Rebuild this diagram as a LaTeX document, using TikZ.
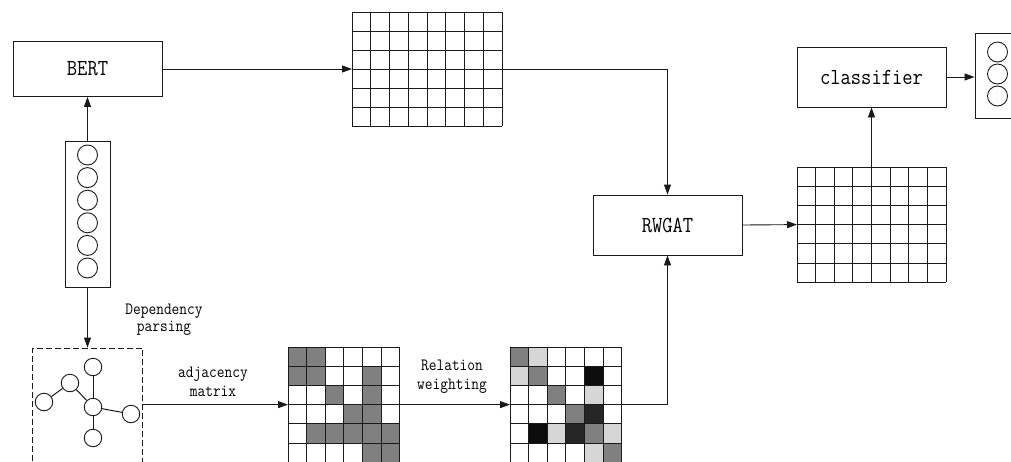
\documentclass[tikz,border=0pt]{standalone}
\usepackage{fontspec}
\usetikzlibrary{arrows.meta}
\definecolor{mgray}{HTML}{808080}
\definecolor{lgray}{HTML}{D6D6D6}
\definecolor{bgray}{HTML}{0D0D0D}
\definecolor{dgray}{HTML}{262626}
\definecolor{ink}{HTML}{1A1A1A}
\tikzset{
  mline/.style={draw=ink, line width=1pt},
  box/.style={draw=ink, line width=0.9pt, rectangle, inner sep=0pt, font=\ttfamily\fontsize{20}{24}\selectfont},
  mat/.style={rectangle, inner sep=0pt, outer sep=0pt},
  dot/.style={circle, draw=ink, line width=0.9pt, inner sep=0pt, minimum size=20pt},
  tdot/.style={circle, draw=ink, line width=0.9pt, inner sep=0pt, minimum size=17.5pt},
  arr/.style={draw=ink, line width=0.9pt, -{Triangle[length=10pt,width=7pt]}},
  lab/.style={align=center, inner sep=0pt, font=\ttfamily\fontsize{15}{19}\selectfont},
}
\newcommand{\tall}[1]{\scalebox{1}[1.15]{#1}}
\begin{document}
\begin{tikzpicture}[x=1pt,y=-1pt]
\useasboundingbox (0,0) rectangle (1011,461);
\clip (0,0) rectangle (1011,461);
\fill[white] (0,0) rectangle (1011,461);

% BERT
\node[box, minimum width=149pt, minimum height=55pt] (bert) at (87.5,69) {\tall{BERT}};

% input vector
\node[box, minimum width=45pt, minimum height=146pt] (inp) at (87.5,214) {};
\foreach \k in {0,...,5}
  \node[dot] (i\k) at (87.5,155+22.6*\k) {};

% dependency tree box
\node[draw=ink, line width=0.9pt, dash pattern=on 6pt off 3pt, rectangle, inner sep=0pt, minimum width=110pt, minimum height=132pt] (dep) at (87.5,414) {};
\node[tdot] (ttop) at (93,367) {};
\node[tdot] (tul) at (70,383) {};
\node[tdot] (tl) at (44,402) {};
\node[tdot] (tc) at (93,407) {};
\node[tdot] (tr) at (131,414) {};
\node[tdot] (tb) at (93,438) {};
\draw[mline] (ttop) -- (tc);
\draw[mline] (tul) -- (tc);
\draw[mline] (tul) -- (tl);
\draw[mline] (tc) -- (tr);
\draw[mline] (tc) -- (tb);

\node[lab, font=\ttfamily\fontsize{15}{17}\selectfont] (depl) at (164,320) {\tall{Dependency}\\\tall{parsing}};

% adjacency matrix
\node[mat, minimum width=111.6pt, minimum height=115.2pt] (adj) at (343.8,404.6) {};
\foreach \c/\r in {1/1,2/1,1/2,2/2,5/2,3/3,5/3,4/4,5/4,2/5,3/5,4/5,5/5,6/5,5/6,6/6}
  \fill[mgray] (288+\c*18.6-18.6,347+\r*19.2-19.2) rectangle ++(18.6,19.2);
\foreach \i in {0,...,6} {
  \draw[mline] (288+\i*18.6,347) -- ++(0,115.2);
  \draw[mline] (288,347+\i*19.2) -- ++(111.6,0);
}
\node[lab] (adjl) at (213,382) {\tall{adjacency}\\\tall{matrix}};

% relation weighting matrix
\node[mat, minimum width=111.6pt, minimum height=115.2pt] (rw) at (565.8,404.6) {};
\foreach \c/\r/\col in {1/1/mgray,2/1/lgray,1/2/lgray,2/2/mgray,5/2/bgray,3/3/mgray,5/3/lgray,4/4/mgray,5/4/dgray,2/5/bgray,3/5/lgray,4/5/dgray,5/5/mgray,6/5/lgray,5/6/lgray,6/6/mgray}
  \fill[\col] (510+\c*18.6-18.6,347+\r*19.2-19.2) rectangle ++(18.6,19.2);
\foreach \i in {0,...,6} {
  \draw[mline] (510+\i*18.6,347) -- ++(0,115.2);
  \draw[mline] (510,347+\i*19.2) -- ++(111.6,0);
}
\node[lab] (rwl) at (452,377) {\tall{Relation}\\\tall{weighting}};

% top matrix
\node[mat, minimum width=150pt, minimum height=114pt] (top) at (427,69) {};
\foreach \i in {0,...,8}
  \draw[mline] (352+\i*18.75,12) -- ++(0,114);
\foreach \i in {0,...,6}
  \draw[mline] (352,12+\i*19) -- ++(150,0);

% RWGAT
\node[box, minimum width=149pt, minimum height=60pt] (rwgat) at (667.5,225) {\tall{RWGAT}};

% output matrix
\node[mat, minimum width=149pt, minimum height=115.2pt] (outm) at (871.5,224.6) {};
\foreach \i in {0,...,8}
  \draw[mline] (797+\i*18.625,167) -- ++(0,115.2);
\foreach \i in {0,...,6}
  \draw[mline] (797,167+\i*19.2) -- ++(149,0);

% classifier
\node[box, minimum width=149pt, minimum height=60pt] (cls) at (871.5,77) {\tall{classifier}};

% output vector
\node[box, minimum width=45pt, minimum height=85pt] (outv) at (997.5,76) {};
\node[dot] (o1) at (997.5,52) {};
\node[dot] (o2) at (997.5,74) {};
\node[dot] (o3) at (997.5,96) {};

% connectors
\draw[arr] (inp.north) -- (bert.south);
\draw[arr] (inp.south) -- (dep.north);
\draw[arr] (dep.east |- adj.west) -- (adj.west);
\draw[arr] (adj.east) -- (rw.west);
\draw[arr] (rw.east) -| (rwgat.south);
\draw[arr] (bert.east) -- (top.west);
\draw[arr] (top.east) -| (rwgat.north);
\draw[arr] (rwgat.east) -- (outm.west);
\draw[arr] (outm.north) -- (cls.south);
\draw[arr] (cls.east) -- (cls.east -| outv.west);
\end{tikzpicture}
\end{document}
